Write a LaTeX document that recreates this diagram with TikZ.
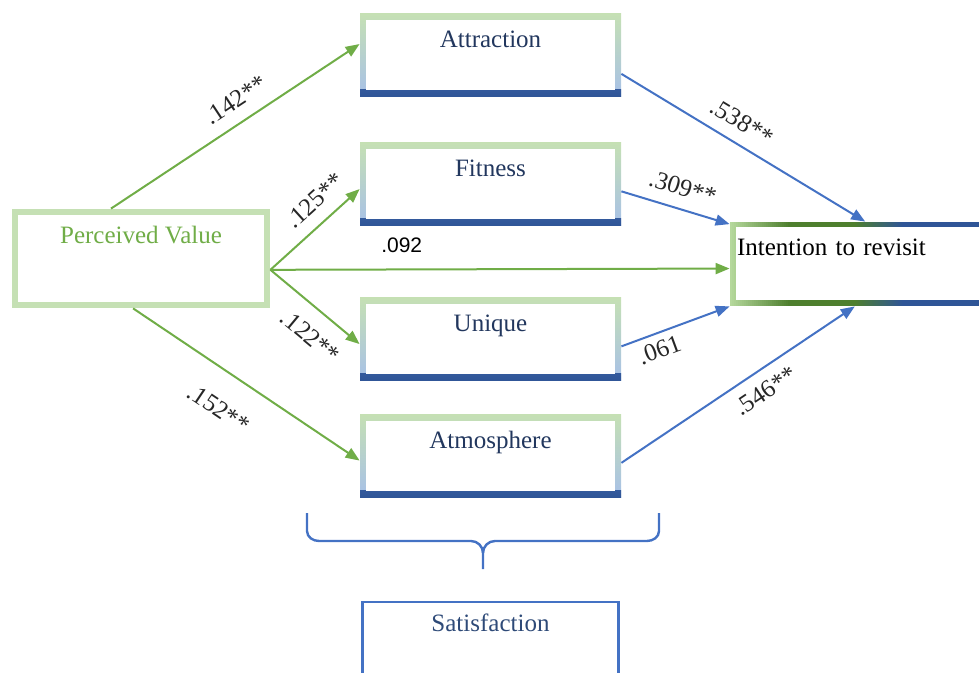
\documentclass[tikz,border=0pt]{standalone}
\usepackage{fontspec}
\setmainfont{Liberation Serif}
\setsansfont{Liberation Sans}
\usetikzlibrary{arrows.meta,positioning}

\definecolor{pvgreen}{HTML}{70AD47}
\definecolor{palegreen}{HTML}{C5E0B4}
\definecolor{paleblue}{HTML}{A7C0E8}
\definecolor{midblue}{HTML}{4472C4}
\definecolor{darkblue}{HTML}{2F5597}
\definecolor{leafgreen}{HTML}{B5D89C}
\definecolor{darkgreen}{HTML}{4E7F2E}
\definecolor{navytext}{HTML}{22375E}
\definecolor{slatetext}{HTML}{2E4A78}

\tikzset{
  framed/.style={path picture={
    \fill[white] ([shift={(#1,#1)}]path picture bounding box.south west)
      rectangle ([shift={(-#1,-#1)}]path picture bounding box.north east);}},
  srcbox/.style={rectangle, inner sep=0pt, fill=palegreen, framed=3pt,
    minimum width=129pt, minimum height=49.5pt, text=pvgreen,
    text height=9pt, text depth=23.5pt},
  medbox/.style={rectangle, inner sep=0pt, top color=palegreen, bottom color=paleblue,
    minimum width=130.5pt, minimum height=41.5pt, text=navytext,
    text height=9pt, text depth=17pt,
    path picture={
      \shade[top color=midblue!85!white, bottom color=darkblue]
        (path picture bounding box.south west) rectangle ([yshift=3.5pt]path picture bounding box.south east);
      \fill[white] ([shift={(3pt,3.5pt)}]path picture bounding box.south west)
        rectangle ([shift={(-3pt,-3pt)}]path picture bounding box.north east);}},
  outbox/.style={rectangle, inner ysep=0pt, inner xsep=3.5pt,
    minimum width=130pt, minimum height=42pt, text width=123pt, align=left,
    text height=9pt, text depth=17pt,
    path picture={
      \fill[darkblue] (path picture bounding box.south west) rectangle (path picture bounding box.north east);
      \fill[darkgreen] ([xshift=29pt]path picture bounding box.south west)
        rectangle ([xshift=63pt]path picture bounding box.north west);
      \foreach \i [evaluate=\i as \p using \i*100/29] in {0,...,29}
        \fill[darkgreen!\p!leafgreen] ([xshift=\i pt]path picture bounding box.south west)
          rectangle ([xshift=\i pt+1.2pt]path picture bounding box.north west);
      \foreach \i [evaluate=\i as \p using \i*100/24] in {0,...,24}
        \fill[darkblue!\p!darkgreen] ([xshift=62pt+\i pt]path picture bounding box.south west)
          rectangle ([xshift=63.2pt+\i pt]path picture bounding box.north west);
      \fill[white] ([shift={(2.75pt,2.75pt)}]path picture bounding box.south west)
        rectangle ([shift={(-2.75pt,-2.75pt)}]path picture bounding box.north east);}},
  groupbox/.style={rectangle, inner sep=0pt, draw=midblue, line width=1.2pt,
    minimum width=128pt, minimum height=50pt, text=slatetext,
    text height=9pt, text depth=30pt},
  garrow/.style={-{Triangle[length=7pt,width=5.5pt]}, pvgreen, line width=1pt},
  barrow/.style={-{Triangle[length=7pt,width=5.5pt]}, midblue, line width=1pt},
  coef/.style={sloped, inner sep=2pt, text=black!85}
}

\begin{document}
\begin{tikzpicture}[x=0.5pt, y=-0.5pt, font=\fontsize{12.5pt}{15pt}\selectfont]
  \clip (0,0) rectangle (979,673);

  % Define nodes
  \node[srcbox] (PV) at (141,258.5) {Perceived Value};
  \node[medbox] (Attr) at (490.5,55.5) {Attraction};
  \node[medbox] (Fit) at (490.5,184.5) {Fitness};
  \node[medbox] (Uni) at (490.5,339.5) {Unique};
  \node[medbox] (Atm) at (490.5,456) {Atmosphere};
  \node[outbox] (IR) at (860,264) {Intention to revisit};
  \node[groupbox, below=51.5pt of Atm] (Sat) {Satisfaction};

  % Brace over the satisfaction items
  \draw[midblue, line width=1.2pt]
    (307,513) -- (307,531) to[out=-90,in=180] (319,541) -- (471,541)
    to[out=0,in=90] (483,553) -- (483,569);
  \draw[midblue, line width=1.2pt]
    (659,513) -- (659,531) to[out=-90,in=0] (647,541) -- (495,541)
    to[out=180,in=90] (483,553);

  % Connect the nodes
  \draw[garrow] (PV.121) -- node[coef, above=4pt, pos=0.55] {.142**} (Attr.175);
  \draw[garrow] (PV.-5) -- node[coef, above=4pt, pos=0.66] {.125**} (Fit.182.4);
  \draw[garrow] (PV.-5) -- node[above=5.75pt, pos=0.286, inner sep=2pt, text=black,
    font=\sffamily\fontsize{10.5pt}{12pt}\selectfont] {.092} (IR.182.6);
  \draw[garrow] (PV.-5) -- node[coef, below=6pt, pos=0.63] {.122**} (Uni.182.4);
  \draw[garrow] (PV.261) -- node[coef, below=11pt, pos=0.465] {.152**} (Atm.182.6);

  \draw[barrow] (Attr.-8.5) -- node[coef, above=4pt, pos=0.45] {.538**} (IR.83);
  \draw[barrow] (Fit.-3.7) -- node[coef, above=4pt, pos=0.51] {.309**} (IR.163);
  \draw[barrow] (Uni.-3.7) -- node[coef, below=1.5pt, pos=0.3] {.061} (IR.south west);
  \draw[barrow] (Atm.-3) -- node[coef, below=3.5pt, pos=0.57] {.546**} (IR.263.5);
\end{tikzpicture}
\end{document}
